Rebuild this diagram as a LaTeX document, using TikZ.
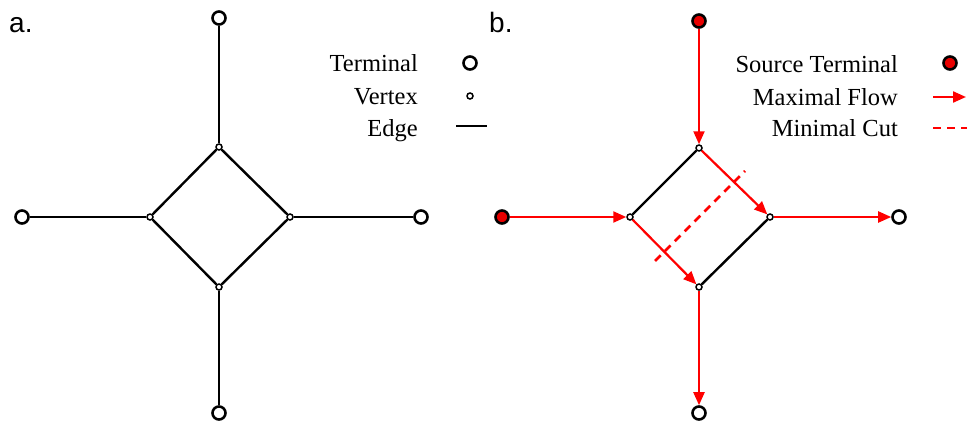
\documentclass[tikz,border=0pt]{standalone}
\usepackage{fontspec}
\setmainfont{Liberation Serif}
\newfontfamily\panelfont{Liberation Sans}
\usetikzlibrary{arrows.meta}
\definecolor{flowred}{RGB}{255,0,0}
\definecolor{srcred}{RGB}{232,0,0}

\begin{document}
\begin{tikzpicture}[x=1pt,y=-1pt,
    terminal/.style={circle,draw=black,fill=white,line width=2.6pt,minimum size=13pt,inner sep=0pt},
    source/.style={terminal,fill=srcred},
    vertex/.style={circle,draw=black,fill=white,line width=1.5pt,minimum size=6pt,inner sep=0pt},
    link/.style={line width=2.4pt,black},
    flow/.style={line width=2.2pt,flowred,-{Triangle[length=13pt,width=11pt]}},
    cut/.style={line width=2.6pt,flowred,dash pattern=on 8pt off 6pt},
    legend/.style={font=\fontsize{24.5}{28}\selectfont,anchor=base east,inner sep=0pt},
    panel/.style={font=\panelfont\fontsize{28}{32}\selectfont,anchor=base west,inner sep=0pt}]

    \useasboundingbox (0,0) rectangle (967,423);

    % 图 a：终端与顶点
    \node[panel] (pa) at (9,32) {a.};
    \node[terminal] (aT) at (219,18) {};
    \node[terminal] (aL) at (22,217) {};
    \node[terminal] (aR) at (421,217) {};
    \node[terminal] (aB) at (219,413) {};
    \node[vertex] (avT) at (219,147) {};
    \node[vertex] (avL) at (150,217) {};
    \node[vertex] (avR) at (290,217) {};
    \node[vertex] (avB) at (219,287) {};

    % 图 a：边
    \draw[link] (aT) -- (avT);
    \draw[link] (aL) -- (avL);
    \draw[link] (aR) -- (avR);
    \draw[link] (aB) -- (avB);
    \draw[link] (avT) -- (avR) -- (avB) -- (avL) -- (avT);

    % 图 a：图例
    \node[legend] (lt) at (418,71) {Terminal};
    \node[terminal] (lts) at (470,63) {};
    \node[legend] (lv) at (418,104) {Vertex};
    \node[vertex] (lvs) at (470,96) {};
    \node[legend] (le) at (418,136) {Edge};
    \coordinate (le1) at (456,126);
    \coordinate (le2) at (487,126);
    \draw[link] (le1) -- (le2);

    % 图 b：源终端与顶点
    \node[panel] (pb) at (489,32) {b.};
    \node[source] (bT) at (699,21) {};
    \node[source] (bL) at (502,217) {};
    \node[terminal] (bR) at (899,217) {};
    \node[terminal] (bB) at (699,413) {};
    \node[vertex] (bvT) at (699,148) {};
    \node[vertex] (bvL) at (630,217) {};
    \node[vertex] (bvR) at (770,217) {};
    \node[vertex] (bvB) at (699,287) {};

    % 图 b：边与最大流
    \draw[link] (bvL) -- (bvT);
    \draw[link] (bvR) -- (bvB);
    \draw[flow] (bT) -- (bvT);
    \draw[flow] (bL) -- (bvL);
    \draw[flow] (bvT) -- (bvR);
    \draw[flow] (bvL) -- (bvB);
    \draw[flow] (bvR) -- (bR);
    \draw[flow] (bvB) -- (bB);

    % 图 b：最小割
    \coordinate (c1) at (655,261);
    \coordinate (c2) at (745,171);
    \draw[cut] (c1) -- (c2);

    % 图 b：图例
    \node[legend] (ls) at (898,72) {Source Terminal};
    \node[source] (lss) at (950,63) {};
    \node[legend] (lf) at (898,105) {Maximal Flow};
    \coordinate (lf1) at (933,97);
    \coordinate (lf2) at (966,97);
    \draw[flow] (lf1) -- (lf2);
    \node[legend] (lc) at (898,136) {Minimal Cut};
    \coordinate (lc1) at (933,128);
    \coordinate (lc2) at (967,128);
    \draw[cut] (lc1) -- (lc2);
\end{tikzpicture}
\end{document}
